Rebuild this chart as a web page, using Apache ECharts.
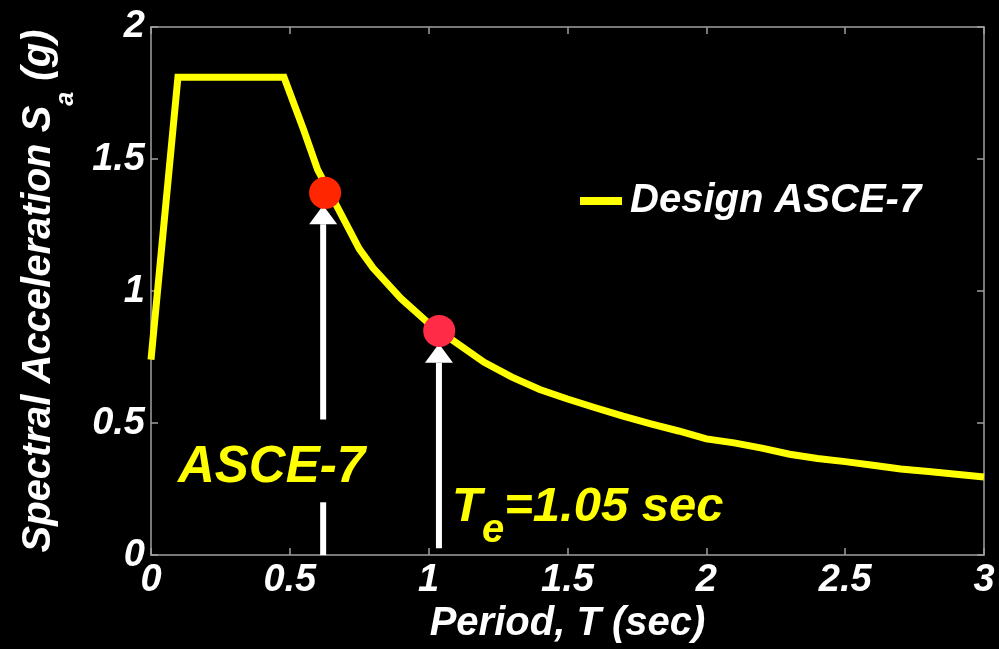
<!DOCTYPE html>
<html>
<head>
<meta charset="utf-8">
<script src="https://cdn.jsdelivr.net/npm/echarts@6/dist/echarts.min.js"></script>
<style>
html,body{margin:0;padding:0;background:#000;}
#chart{width:999px;height:649px;}
</style>
</head>
<body>
<div id="chart"></div>
<script>
// ---- data ----
const periodT = [0, 0.097, 0.2, 0.3, 0.4, 0.479, 0.55, 0.6, 0.65, 0.7, 0.75, 0.8, 0.9, 1.0, 1.1, 1.2, 1.3, 1.4, 1.5, 1.6, 1.7, 1.8, 1.9, 2.0, 2.1, 2.2, 2.3, 2.4, 2.5, 2.6, 2.7, 2.8, 2.9, 3.0];
const saDesign = [0.74, 1.81, 1.81, 1.81, 1.81, 1.81, 1.61, 1.46, 1.36, 1.26, 1.16, 1.087, 0.972, 0.878, 0.804, 0.73, 0.674, 0.627, 0.591, 0.558, 0.526, 0.497, 0.47, 0.44, 0.425, 0.405, 0.382, 0.366, 0.354, 0.34, 0.326, 0.317, 0.306, 0.296];
const markT = [0.627, 1.038];
const markSa = [1.372, 0.849];
const markColors = ['#ff2600', '#ff2b47'];
// arrows: period, base Sa, tip Sa, gap low, gap high (0 = no gap)
const arrowT = [0.62, 1.037];
const arrowBase = [0, 0.026];
const arrowTip = [1.325, 0.80];
const arrowGapLow = [0.2, 0];
const arrowGapHigh = [0.514, 0];
const seriesName = 'Design ASCE-7';
const xName = 'Period, T (sec)';
const xMin = 0, xMax = 3, xStep = 0.5;
const yMin = 0, yMax = 2, yStep = 0.5;

const FF = '"Liberation Sans", Arial, sans-serif';
const axisColor = '#a0a0a0';
const txt = {color:'#fff', fontWeight:'bold', fontStyle:'italic', fontFamily:FF};

const lineData = periodT.map((t,i)=>[t, saDesign[i]]);
const dotData = markT.map((t,i)=>({value:[t, markSa[i]], itemStyle:{color:markColors[i], opacity:1}}));
const arrowData = arrowT.map((t,i)=>[t, arrowBase[i], arrowTip[i], arrowGapLow[i], arrowGapHigh[i]]);

const chart = echarts.init(document.getElementById('chart'), null, {renderer:'canvas'});

const baseX = {type:'value', min:xMin, max:xMax, interval:xStep, splitLine:{show:false},
  axisLine:{show:true, onZero:false, lineStyle:{color:axisColor, width:1.5}},
  axisTick:{show:true, inside:true, length:7, lineStyle:{color:axisColor, width:1.5}}};
const baseY = {type:'value', min:yMin, max:yMax, interval:yStep, splitLine:{show:false},
  axisLine:{show:true, onZero:false, lineStyle:{color:axisColor, width:1.5}},
  axisTick:{show:true, inside:true, length:7, lineStyle:{color:axisColor, width:1.5}}};

const option = {
  backgroundColor:'#000',
  animation:false,
  grid:{left:151, right:15, top:27, bottom:89, containLabel:false},
  legend:{
    data:[seriesName], left:580, top:181, padding:0, icon:'rect',
    itemWidth:42, itemHeight:8, itemGap:0,
    textStyle:Object.assign({}, txt, {fontSize:40, padding:[0,0,0,3]})
  },
  xAxis:[
    Object.assign({}, baseX, {position:'bottom',
      axisLabel:Object.assign({}, txt, {fontSize:38, margin:6}),
      name:xName, nameLocation:'middle', nameGap:41,
      nameTextStyle:Object.assign({}, txt, {fontSize:40})}),
    Object.assign({}, baseX, {position:'top', axisLabel:{show:false}})
  ],
  yAxis:[
    Object.assign({}, baseY, {position:'left',
      axisLabel:Object.assign({}, txt, {fontSize:38, margin:6}),
      name:'Spectral Acceleration S{sub|a} (g)', nameLocation:'middle', nameGap:72,
      nameTextStyle:Object.assign({}, txt, {fontSize:40,
        rich:{sub:Object.assign({}, txt, {fontSize:25, padding:[56,0,0,0]})}})}),
    Object.assign({}, baseY, {position:'right', axisLabel:{show:false}})
  ],
  series:[
    {name:seriesName, type:'line', data:lineData, symbol:'none', z:2,
      lineStyle:{color:'#ffff00', width:7, join:'miter', cap:'butt'},
      itemStyle:{color:'#ffff00'}},
    {name:'arrows', type:'custom', data:arrowData, z:3, silent:true,
      renderItem:function(params, api){
        const t = api.value(0), base = api.value(1), tip = api.value(2);
        const gl = api.value(3), gh = api.value(4);
        const pb = api.coord([t, base]);
        const pt = api.coord([t, tip]);
        const x = pb[0];
        const headH = 19, headW = 28, lw = 6;
        const hb = pt[1] + headH;
        const children = [];
        const seg = (y1, y2) => children.push({type:'line', shape:{x1:x, y1:y1, x2:x, y2:y2},
          style:{stroke:'#ffffff', lineWidth:lw}});
        if (gl > 0) {
          seg(pb[1], api.coord([t, gl])[1]);
          seg(api.coord([t, gh])[1], hb);
        } else {
          seg(pb[1], hb);
        }
        children.push({type:'polygon', shape:{points:[[x-headW/2, hb],[x+headW/2, hb],[x, pt[1]]]},
          style:{fill:'#ffffff'}});
        return {type:'group', children:children};
      }},
    {name:'points', type:'scatter', data:dotData, symbol:'circle', symbolSize:32, z:4,
      itemStyle:{opacity:1}}
  ],
  graphic:[
    {type:'text', x:178, y:468, z:10,
      style:{text:'ASCE-7', fill:'#ffff00', font:'italic bold 51px ' + FF, verticalAlign:'middle', align:'left'}},
    {type:'text', x:452, y:507, z:10,
      style:{text:'{t|T}{s|e}{t|=1.05 sec}', verticalAlign:'middle', align:'left',
        rich:{
          t:{fill:'#ffff00', font:'italic bold 49px ' + FF},
          s:{fill:'#ffff00', font:'italic bold 40px ' + FF, padding:[48,0,0,0]}
        }}}
  ]
};
chart.setOption(option);
</script>
</body>
</html>
